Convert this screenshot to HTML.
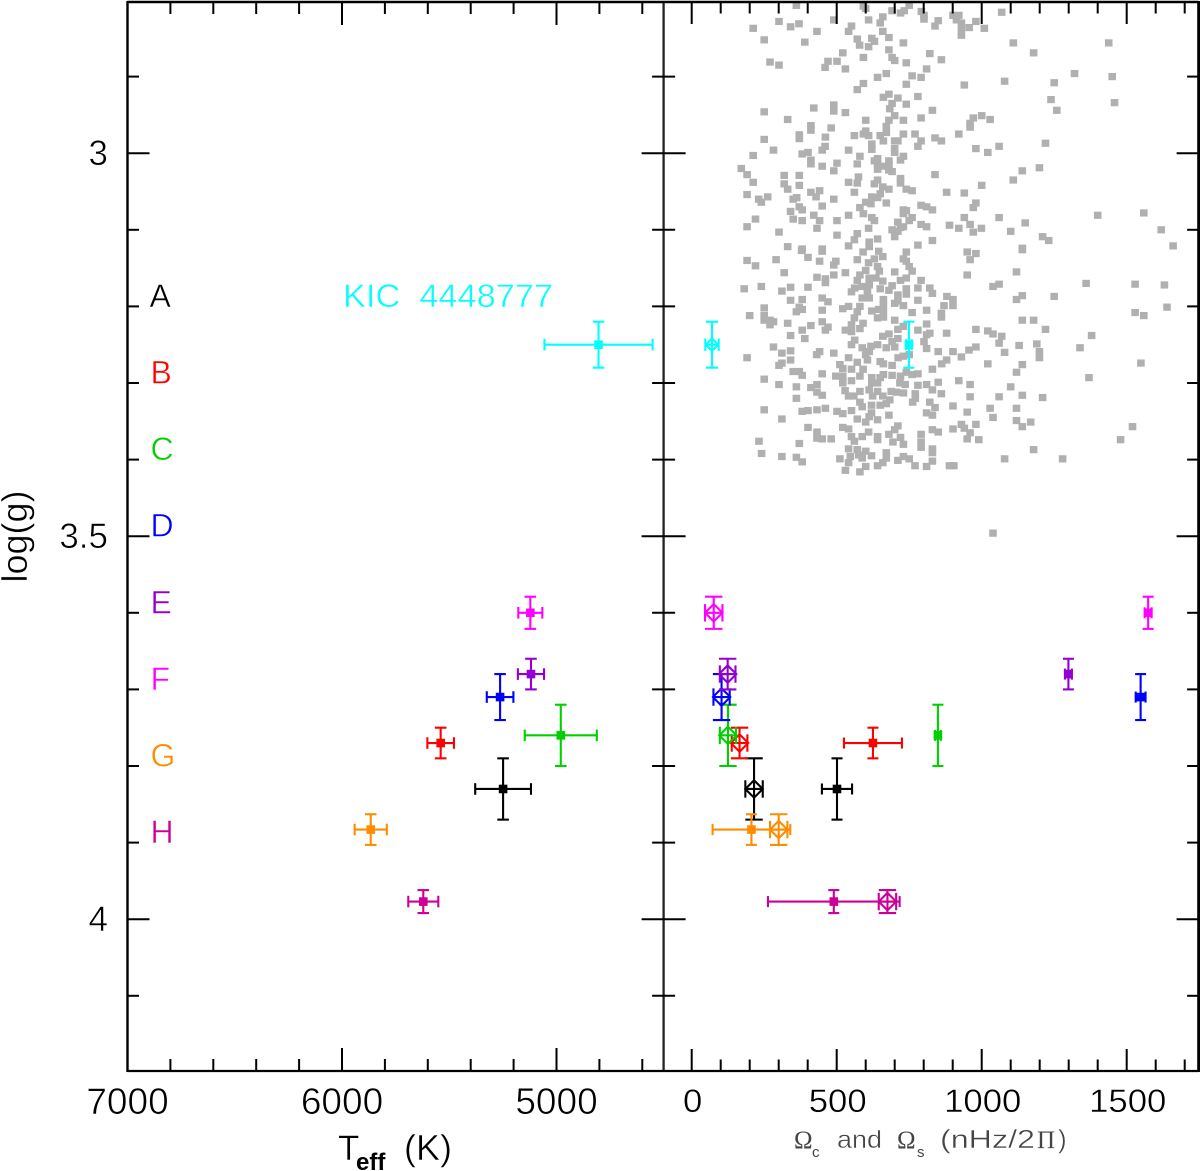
<!DOCTYPE html>
<html lang="en">
<head>
<meta charset="utf-8">
<title>log(g) versus Teff and rotation rates</title>
<style>
html,body{margin:0;padding:0;background:#fff}
svg{display:block}
text{font-family:"Liberation Sans",sans-serif}
</style>
</head>
<body>
<svg id="chart" xmlns="http://www.w3.org/2000/svg" width="1200" height="1171" viewBox="0 0 1200 1171">
  <rect x="0" y="0" width="1200" height="1171" fill="#fff"/>
  <g id="scatter"></g>
  <g id="axes"></g>
  <g id="marks"></g>
  <g id="ticklabels"></g>
  <g id="legend"></g>
  <text x="343" y="307" font-size="32" fill="#00ffff" stroke="#fff" stroke-width=".5" textLength="210" lengthAdjust="spacingAndGlyphs" xml:space="preserve">KIC  4448777</text>
  <text transform="translate(27,536.5) rotate(-90)" text-anchor="middle" font-size="36" fill="#000" stroke="#fff" stroke-width=".5">log(g)</text>
  <g fill="#000">
    <text x="338" y="1160" font-size="35" stroke="#fff" stroke-width=".5">T</text>
    <text x="356" y="1170" font-size="24" font-weight="bold">eff</text>
    <text x="404" y="1160" font-size="36" stroke="#fff" stroke-width=".5">(K)</text>
  </g>
  <g fill="#444">
    <text x="794" y="1148" font-size="25" style="font-family:'Liberation Serif',serif">Ω</text>
    <text x="812" y="1157" font-size="15">c</text>
    <text x="837" y="1148" font-size="25" textLength="45" lengthAdjust="spacingAndGlyphs" stroke="#fff" stroke-width=".4">and</text>
    <text x="897" y="1148" font-size="25" style="font-family:'Liberation Serif',serif">Ω</text>
    <text x="917" y="1157" font-size="15">s</text>
    <text x="940" y="1148" font-size="26" textLength="95" lengthAdjust="spacingAndGlyphs" stroke="#fff" stroke-width=".4">(nHz/2</text>
    <text x="1037" y="1148" font-size="25" style="font-family:'Liberation Serif',serif">Π</text>
    <text x="1058" y="1148" font-size="26" stroke="#fff" stroke-width=".4">)</text>
  </g>
</svg>
<script>
const starNames = ['A','B','C','D','E','F','G','H','KIC 4448777'];
const starColors = ['#000000','#ff0000','#00d000','#0000ff','#9400d3','#ff00ff','#ff8c00','#cc0099','#00ffff'];
const teff = [5249,5540,4980,5263,5119,5122,5866,5621,4804];
const teffErr = [130,62,168,62,61,56,75,70,252];
const logg = [3.83,3.77,3.76,3.71,3.68,3.60,3.883,3.977,3.25];
const loggErr = [0.04,0.02,0.04,0.03,0.02,0.021,0.02,0.015,0.03];
const omegaCore = [501,625,849,1548,1299,1574,206,490,749];
const omegaCoreErr = [52,100,10,17,12,12,134,227,10];
const omegaEnv = [215,165,125,103,124,76,300,675,70];
const omegaEnvErr = [30,27,28,28,27,30,30,30,23];
const legendLetters = ['A','B','C','D','E','F','G','H'];
const legendLogg = [3.2,3.3,3.4,3.5,3.6,3.7,3.8,3.9];
const leftTickLabels = [7000,6000,5000];
const rightTickLabels = [0,500,1000,1500];
const yTickLabels = [3,3.5,4];
const backgroundStars = [
[361,2.807],[592,2.808],[600,2.811],[750,2.807],[691,2.814],[720,2.817],[733,2.814],[792,2.815],[801,2.820],[801,2.825],
[901,2.820],[921,2.820],[913,2.826],[930,2.830],[930,2.837],[930,2.846],[957,2.836],[980,2.828],[1009,2.837],[1069,2.816],
[850,2.827],[839,2.834],[659,2.822],[650,2.830],[610,2.826],[490,2.826],[551,2.834],[541,2.841],[370,2.831],[341,2.835],
[301,2.828],[212,2.837],[250,2.852],[432,2.841],[390,2.855],[659,2.841],[680,2.849],[571,2.851],[579,2.859],[621,2.850],
[630,2.854],[610,2.861],[730,2.856],[1109,2.856],[1438,2.856],[521,2.869],[680,2.865],[691,2.875],[700,2.879],[821,2.870],
[1179,2.869],[861,2.878],[270,2.881],[301,2.885],[470,2.880],[460,2.888],[501,2.880],[530,2.890],[592,2.875],[740,2.882],
[810,2.890],[671,2.896],[641,2.901],[760,2.899],[791,2.901],[1320,2.896],[1450,2.900],[592,2.909],[571,2.917],[740,2.910],
[940,2.911],[1079,2.906],[1250,2.908],[680,2.923],[661,2.927],[711,2.928],[780,2.926],[1239,2.930],[1458,2.934],[691,2.935],
[740,2.936],[683,2.942],[250,2.946],[421,2.941],[490,2.937],[490,2.945],[530,2.947],[830,2.944],[1259,2.944],[700,2.951],
[600,2.957],[680,2.957],[730,2.957],[791,2.954],[331,2.956],[971,2.954],[1000,2.951],[1029,2.956],[960,2.961],[960,2.966],
[411,2.964],[411,2.970],[481,2.967],[671,2.965],[671,2.973],[600,2.971],[592,2.975],[610,2.977],[561,2.977],[461,2.979],
[371,2.976],[371,2.981],[250,2.982],[650,2.977],[661,2.984],[730,2.975],[770,2.975],[921,2.975],[839,2.980],[861,2.984],
[791,2.984],[780,2.991],[700,2.984],[711,2.984],[621,2.988],[621,2.995],[700,2.994],[700,2.999],[460,2.991],[450,2.996],
[541,2.996],[282,2.996],[401,2.999],[381,3.001],[212,3.003],[730,3.004],[720,3.009],[580,3.004],[641,3.007],[630,3.010],
[680,3.010],[980,2.994],[1021,2.999],[1060,2.991],[1220,2.987],[641,3.014],[641,3.021],[661,3.017],[680,3.015],[680,3.022],
[691,3.024],[411,3.009],[411,3.014],[501,3.013],[450,3.017],[571,3.014],[490,3.023],[171,3.020],[191,3.028],[319,3.029],
[371,3.029],[839,3.028],[1140,3.023],[1199,3.019],[575,3.031],[571,3.039],[541,3.038],[212,3.038],[319,3.040],[331,3.047],
[371,3.042],[641,3.035],[630,3.040],[720,3.033],[720,3.039],[1109,3.035],[1000,3.042],[659,3.044],[680,3.047],[740,3.047],
[760,3.049],[411,3.051],[441,3.049],[429,3.057],[561,3.051],[650,3.053],[621,3.057],[641,3.058],[191,3.054],[231,3.060],
[262,3.057],[240,3.064],[350,3.060],[362,3.058],[490,3.060],[879,3.051],[940,3.052],[600,3.064],[618,3.066],[671,3.065],
[450,3.069],[371,3.070],[381,3.074],[341,3.076],[580,3.071],[592,3.079],[791,3.068],[810,3.070],[830,3.074],[980,3.065],
[971,3.071],[730,3.074],[740,3.075],[730,3.079],[421,3.081],[541,3.081],[441,3.088],[220,3.086],[350,3.086],[381,3.088],
[501,3.088],[621,3.084],[630,3.088],[760,3.084],[750,3.088],[940,3.084],[1060,3.084],[1400,3.081],[1559,3.078],[960,3.093],
[1150,3.091],[791,3.093],[810,3.096],[711,3.090],[730,3.096],[720,3.097],[691,3.100],[711,3.102],[700,3.109],[610,3.098],
[432,3.098],[191,3.096],[301,3.103],[889,3.094],[921,3.098],[999,3.098],[971,3.103],[1100,3.102],[1619,3.100],[571,3.105],
[501,3.107],[561,3.113],[641,3.112],[612,3.116],[612,3.122],[830,3.114],[1210,3.109],[1231,3.114],[331,3.122],[381,3.125],
[450,3.125],[541,3.121],[780,3.120],[1660,3.121],[1140,3.124],
[379,3.127],[450,3.128],[591,3.129],[645,3.128],[659,3.135],[740,3.129],[950,3.129],[980,3.131],[1140,3.126],[401,3.136],
[291,3.139],[191,3.140],[220,3.147],[441,3.141],[571,3.139],[497,3.141],[490,3.146],[610,3.143],[630,3.138],[641,3.148],
[730,3.138],[740,3.141],[750,3.148],[960,3.139],[760,3.154],[319,3.156],[530,3.156],[490,3.159],[432,3.162],[461,3.164],
[461,3.169],[600,3.153],[580,3.159],[647,3.154],[700,3.155],[950,3.159],[1120,3.155],[571,3.166],[612,3.163],[635,3.163],
[659,3.167],[720,3.166],[740,3.163],[791,3.166],[240,3.174],[341,3.175],[401,3.175],[181,3.177],[311,3.180],[562,3.176],
[588,3.174],[612,3.172],[650,3.177],[680,3.179],[691,3.173],[780,3.176],[821,3.176],[830,3.183],[1039,3.174],[1060,3.171],
[1360,3.170],[1529,3.171],[1630,3.172],[551,3.181],[606,3.180],[740,3.177],[740,3.184],[711,3.185],[1250,3.187],[1120,3.191],
[1140,3.186],[880,3.187],[901,3.191],[901,3.199],[588,3.189],[612,3.189],[661,3.191],[780,3.192],[711,3.193],[341,3.192],
[381,3.191],[450,3.189],[470,3.194],[250,3.202],[371,3.201],[381,3.204],[361,3.207],[450,3.205],[521,3.203],[541,3.200],
[580,3.200],[571,3.207],[661,3.198],[700,3.196],[730,3.199],[870,3.199],[621,3.206],[645,3.204],[661,3.206],[760,3.208],
[810,3.205],[1639,3.201],[1529,3.208],[1559,3.212],[861,3.209],[861,3.214],[200,3.212],[250,3.212],[250,3.218],[270,3.218],
[282,3.220],[270,3.224],[331,3.222],[561,3.215],[641,3.215],[661,3.214],[450,3.220],[411,3.225],[470,3.227],[461,3.231],
[551,3.224],[591,3.222],[580,3.229],[700,3.218],[810,3.223],[1140,3.218],[1179,3.218],[530,3.231],[551,3.233],[730,3.226],
[711,3.230],[780,3.231],[381,3.231],[980,3.230],[1021,3.232],[1039,3.236],[1220,3.230],[341,3.238],[390,3.242],[821,3.235],
[810,3.237],[879,3.235],[680,3.236],[659,3.239],[1379,3.238],[1069,3.239],[562,3.244],[551,3.250],[711,3.242],[691,3.246],
[801,3.246],[1060,3.248],[641,3.250],[618,3.252],[588,3.254],[671,3.254],[700,3.253],[810,3.255],[1129,3.251],[1190,3.249],
[980,3.253],[1339,3.254],[282,3.253],[311,3.261],[341,3.258],[441,3.259],[431,3.263],[490,3.261],[612,3.259],[600,3.263],
[850,3.259],[901,3.259],[956,3.257],[1079,3.260],[1199,3.259],[1199,3.267],[191,3.267],[341,3.270],[541,3.267],[606,3.270],
[750,3.263],[730,3.265],[712,3.267],[930,3.266],[879,3.270],[311,3.274],[301,3.277],[511,3.276],[571,3.273],[650,3.272],
[661,3.275],[691,3.277],[862,3.275],[1021,3.275],[1140,3.276],[1549,3.274],[521,3.281],[551,3.282],[591,3.282],[830,3.282],
[350,3.285],[371,3.285],[381,3.290],[450,3.288],[740,3.286],[760,3.289],[780,3.288],[1120,3.286],[497,3.291],[521,3.291],
[580,3.291],[661,3.289],[691,3.290],[621,3.293],[650,3.293],[720,3.291],[250,3.295],[521,3.300],[551,3.297],[921,3.297],
[1370,3.293],[850,3.299],[301,3.302],[361,3.305],[432,3.302],[411,3.306],[621,3.300],[641,3.300],[718,3.300],[736,3.302],
[780,3.303],[810,3.302],[960,3.302],[1100,3.305],[830,3.309],[861,3.314],[432,3.312],[450,3.316],[529,3.310],[541,3.317],
[559,3.317],[580,3.311],[612,3.309],[641,3.311],[688,3.311],[706,3.312],[730,3.313],[361,3.320],[960,3.318],[1060,3.318],
[1140,3.316],[1210,3.319],[771,3.314],[624,3.317],[659,3.317],[683,3.322],[771,3.320],[580,3.325],[762,3.325],[821,3.325],
[620,3.329],[588,3.331],[650,3.329],[671,3.327],[901,3.330],[1029,3.333],[1120,3.333],[839,3.332],[250,3.335],[381,3.337],
[401,3.336],[432,3.335],[461,3.333],[501,3.337],[521,3.340],[551,3.336],[620,3.339],[950,3.338],[810,3.339],[830,3.342],
[680,3.342],[571,3.347],[612,3.344],[600,3.351],[641,3.348],[311,3.347],[1039,3.345],[1120,3.349],[1169,3.351],[1140,3.357],
[980,3.354],[930,3.354],[940,3.359],[401,3.358],[521,3.358],[541,3.360],[711,3.356],[700,3.361],[830,3.361],[850,3.364],
[901,3.360],[1520,3.357],[432,3.364],[432,3.372],[450,3.373],[481,3.373],[610,3.364],[551,3.370],[588,3.370],[641,3.370],
[641,3.374],[680,3.367],[720,3.371],[791,3.367],[960,3.365],[950,3.373],[990,3.374],[232,3.376],[371,3.379],[561,3.376],
[694,3.377],[730,3.380],[791,3.377],[791,3.384],[1479,3.374],[1179,3.387],[541,3.386],[571,3.387],[600,3.389],[671,3.391],
[830,3.386],[830,3.391],[241,3.392],[311,3.396],[361,3.397],[381,3.403],[511,3.399],[547,3.396],[576,3.394],[588,3.398],
[620,3.395],[671,3.398],[730,3.396],[711,3.401],[750,3.399],[830,3.402],[1079,3.399],[1279,3.399],[541,3.404],[641,3.408],
[659,3.404],[600,3.409],[770,3.408],[810,3.409],[889,3.408],[904,3.408],[530,3.414],[580,3.416],[1039,3.496]
];

const NS = 'http://www.w3.org/2000/svg';
const LEFT = 127.5, MID = 663.6, RIGHT = 1198.6, TOP = 2, BOTTOM = 1071;
function xLeft(t){ return 127.5 + (7000 - t) * 0.2145; }
function xRight(w){ return 691.7 + w * 0.29; }
function yAxis(g){ return (g - 2.8) * 766; }

function add(parent, tag, attrs, name){
  const el = document.createElementNS(NS, tag);
  for (const k in attrs) el.setAttribute(k, attrs[k]);
  
  
  parent.appendChild(el);
  return el;
}
function line(parent, x1, y1, x2, y2, color, w, name){
  return add(parent, 'line', {x1:x1, y1:y1, x2:x2, y2:y2, stroke:color, 'stroke-width':w}, name);
}

const scatterLayer = document.getElementById('scatter');
backgroundStars.forEach(function(p){
  add(scatterLayer, 'rect', {x:xRight(p[0])-3.8, y:yAxis(p[1])-3.6, width:7.6, height:7.2, fill:'#b0b0b0'}, 'background-star-point');
});

const axesLayer = document.getElementById('axes');
line(axesLayer, LEFT, 1, LEFT, BOTTOM+1, '#000', 2.4, 'left-axis-line');
line(axesLayer, MID, 1, MID, BOTTOM+1, '#222', 2.3, 'middle-axis-line');
line(axesLayer, RIGHT, 1, RIGHT, BOTTOM+1, '#000', 2.8, 'right-axis-line');
line(axesLayer, LEFT, TOP, RIGHT, TOP, '#000', 2.5, 'top-axis-line');
line(axesLayer, LEFT, BOTTOM, RIGHT, BOTTOM, '#000', 2.3, 'bottom-axis-line');

for (let t = 6800; t >= 4600; t -= 200) {
  const major = t % 1000 === 0;
  const len = major ? 23 : 12;
  line(axesLayer, xLeft(t), TOP, xLeft(t), TOP+len, '#000', 2, 'left-panel-top-tick');
  line(axesLayer, xLeft(t), BOTTOM-len, xLeft(t), BOTTOM, '#000', 2, 'left-panel-bottom-tick');
}
for (let w = 0; w <= 1700; w += 100) {
  const major = w % 500 === 0;
  const len = major ? 22 : 11.5;
  line(axesLayer, xRight(w), TOP, xRight(w), TOP+len, '#000', 2, 'right-panel-top-tick');
  line(axesLayer, xRight(w), BOTTOM-len, xRight(w), BOTTOM, '#000', 2, 'right-panel-bottom-tick');
}
for (let i = 29; i <= 41; i++) {
  const g = i / 10;
  const major = i % 5 === 0;
  const len = major ? 22 : 11.5;
  const y = yAxis(g);
  line(axesLayer, LEFT, y, LEFT+len, y, '#000', 2, 'left-y-tick');
  line(axesLayer, MID-len, y, MID+len, y, '#000', 2, 'middle-y-tick');
  line(axesLayer, RIGHT-len, y, RIGHT, y, '#000', 2, 'right-y-tick');
}

const labelLayer = document.getElementById('ticklabels');
leftTickLabels.forEach(function(v){
  const el = add(labelLayer, 'text', {x:xLeft(v), y:1114, 'font-size':37, 'text-anchor':'middle', fill:'#000', stroke:'#fff', 'stroke-width':0.6}, 'left-x-tick-label');
  el.textContent = v;
});
rightTickLabels.forEach(function(v){
  const chars = String(v).length;
  const el = add(labelLayer, 'text', {x:xRight(v)+1, y:1112, 'font-size':32, 'text-anchor':'middle', fill:'#000', stroke:'#fff', 'stroke-width':0.4, textLength:chars*19.3, lengthAdjust:'spacingAndGlyphs'}, 'right-x-tick-label');
  el.textContent = v;
});
yTickLabels.forEach(function(v){
  const el = add(labelLayer, 'text', {x:108, y:yAxis(v)+12, 'font-size':35, 'text-anchor':'end', fill:'#000', stroke:'#fff', 'stroke-width':0.6}, 'y-tick-label');
  el.textContent = v;
});

const legendLayer = document.getElementById('legend');
legendLetters.forEach(function(letter, i){
  const el = add(legendLayer, 'text', {x:letter === 'A' ? 149.5 : 150.5, y:yAxis(legendLogg[i])+0.5, 'font-size':32, fill:starColors[i], stroke:'#fff', 'stroke-width':0.5}, 'legend-entry');
  el.textContent = letter;
});

const markLayer = document.getElementById('marks');
function errorCross(cx, cy, dx, dy, cap, color, name){
  const w = 2.1;
  line(markLayer, cx, cy-dy, cx, cy+dy, color, w, name + '-y-error');
  line(markLayer, cx-cap, cy-dy, cx+cap, cy-dy, color, w, name + '-y-cap');
  line(markLayer, cx-cap, cy+dy, cx+cap, cy+dy, color, w, name + '-y-cap');
  line(markLayer, cx-dx, cy, cx+dx, cy, color, w, name + '-x-error');
  line(markLayer, cx-dx, cy-cap, cx-dx, cy+cap, color, w, name + '-x-cap');
  line(markLayer, cx+dx, cy-cap, cx+dx, cy+cap, color, w, name + '-x-cap');
}
starNames.forEach(function(star, i){
  const color = starColors[i];
  const cy = yAxis(logg[i]);
  const dy = loggErr[i] * 766;
  const id = 'star-' + star.toLowerCase().replace(/\s+/g, '-');

  const lx = xLeft(teff[i]);
  errorCross(lx, cy, teffErr[i] * 0.2145, dy, 5.8, color, id + '-teff');
  add(markLayer, 'rect', {x:lx-4.3, y:cy-4.3, width:8.6, height:8.6, fill:color}, id + '-teff-marker');

  const cx = xRight(omegaCore[i]);
  errorCross(cx, cy, omegaCoreErr[i] * 0.29, dy, 5.5, color, id + '-core');
  add(markLayer, 'rect', {x:cx-4.3, y:cy-4.3, width:8.6, height:8.6, fill:color}, id + '-core-marker');

  const ex = xRight(omegaEnv[i]);
  const r = star === 'KIC 4448777' ? 6.2 : 8.7;
  errorCross(ex, cy, omegaEnvErr[i] * 0.29, dy, r, color, id + '-envelope');
  const d = (ex-r)+','+cy+' '+ex+','+(cy-r)+' '+(ex+r)+','+cy+' '+ex+','+(cy+r);
  add(markLayer, 'polygon', {points:d, fill:'none', stroke:color, 'stroke-width':2.1}, id + '-envelope-marker');
});
</script>
</body>
</html>
